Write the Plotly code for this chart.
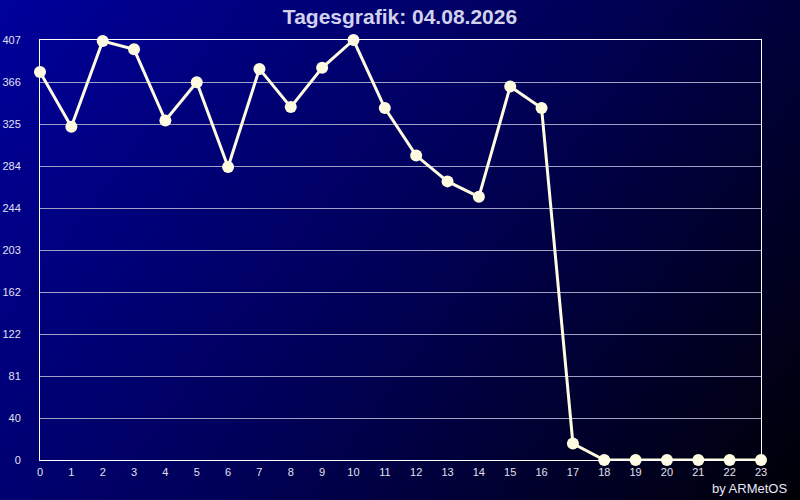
import base64
import plotly.graph_objects as go

# ---- data ----
hours = list(range(24))
values = [376, 323, 406, 398, 329, 366, 284, 379, 342, 380, 407, 341,
          295, 270, 255, 362, 341, 16, 0, 0, 0, 0, 0, 0]
y_max = 407
y_tick_labels = ["0", "40", "81", "122", "162", "203", "244", "284", "325", "366", "407"]
x_tick_labels = [str(h) for h in hours]
title_text = "Tagesgrafik: 04.08.2026"
credit_text = "by ARMetOS"

W, H = 800, 500
ML, MR, MT, MB = 40, 39, 40, 40
PW, PH = W - ML - MR, H - MT - MB

# background gradient (blue top-left -> black bottom-right) as an SVG image
svg = f'''<svg xmlns="http://www.w3.org/2000/svg" width="{W}" height="{H}" viewBox="0 0 {W} {H}" preserveAspectRatio="none">
<defs><linearGradient id="g" gradientUnits="userSpaceOnUse" x1="0" y1="0" x2="753" y2="562">
<stop offset="0" stop-color="#00009c"/>
<stop offset="0.5" stop-color="#000058"/>
<stop offset="1" stop-color="#000006"/>
</linearGradient></defs>
<rect x="0" y="0" width="{W}" height="{H}" fill="url(#g)"/>
</svg>'''
bg_src = "data:image/svg+xml;base64," + base64.b64encode(svg.encode()).decode()

line_col = "#fffbe0"

fig = go.Figure()
fig.add_trace(go.Scatter(
    x=hours, y=values, mode="lines+markers",
    line=dict(color=line_col, width=3),
    marker=dict(color=line_col, size=12),
    cliponaxis=False, hoverinfo="x+y", showlegend=False,
))

tick_vals = [y_max * i / 10 for i in range(len(y_tick_labels))]

fig.update_layout(
    width=W, height=H,
    margin=dict(l=ML, r=MR, t=MT, b=MB, autoexpand=False),
    paper_bgcolor="#000040",
    plot_bgcolor="rgba(0,0,0,0)",
    font=dict(family="Liberation Sans, Arial, sans-serif", color="#e0e0f0", size=11),
    title=dict(text=title_text, x=0.5, xanchor="center", y=1 - 17 / H, yanchor="middle",
               font=dict(size=21, color="#d2d2ee", family="Liberation Sans, Arial, sans-serif",
                         weight="bold")),
    images=[dict(source=bg_src, xref="paper", yref="paper",
                 x=-ML / PW, y=1 + MT / PH, sizex=W / PW, sizey=H / PH,
                 xanchor="left", yanchor="top", sizing="stretch", layer="below")],
    xaxis=dict(range=[0, 23], tickvals=hours, ticktext=x_tick_labels, automargin=False,
               showgrid=False, zeroline=False, showline=True, mirror=True,
               linecolor="#ffffff", linewidth=1, ticks="", ticklabelstandoff=2,
               tickfont=dict(size=11, color="#e0e0f0")),
    yaxis=dict(range=[0, y_max], tickvals=tick_vals, ticktext=y_tick_labels, automargin=False,
               showgrid=True, gridcolor="#a0a0c4", gridwidth=1,
               zeroline=False, showline=True, mirror=True,
               linecolor="#ffffff", linewidth=1, ticks="", ticklabelstandoff=16,
               tickfont=dict(size=11, color="#e0e0f0")),
    annotations=[dict(text=credit_text, xref="paper", yref="paper",
                      x=1 + 28 / PW, xanchor="right", y=-(488 - (H - MB)) / PH, yanchor="middle",
                      showarrow=False, font=dict(size=13, color="#e6e6f4"))],
)

fig.write_html("out.html", config={"displayModeBar": False},
               post_script="document.body.style.margin='0px';")
